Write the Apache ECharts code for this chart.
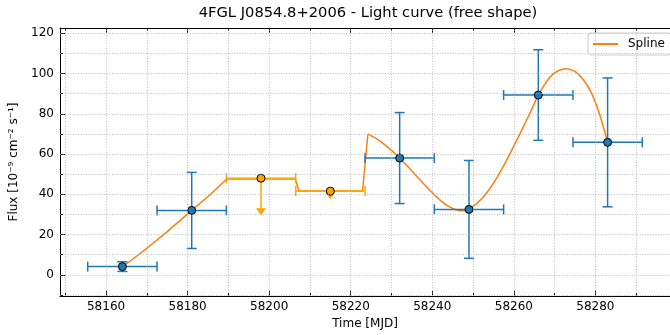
<!DOCTYPE html>
<html>
<head>
<meta charset="utf-8">
<script src="https://cdn.jsdelivr.net/npm/echarts@6/dist/echarts.min.js"></script>
<style>html,body{margin:0;padding:0;background:#fff}#c{width:670px;height:335px}</style>
</head>
<body>
<div id="c"></div>
<script>
// ---- data ----
const titleText = '4FGL J0854.8+2006 - Light curve (free shape)';
const xLabel = 'Time [MJD]';
const yLabel = 'Flux [10\u207B\u2079 cm\u207B\u00B2 s\u207B\u00B9]';

const times = [58164, 58181, 58232, 58249, 58266, 58283];
const flux = [4.1, 32.0, 58.0, 32.5, 89.3, 65.8];
const fluxErr = [2.4, 18.9, 22.6, 24.3, 22.5, 32.0];
const timeErr = [8.5, 8.5, 8.5, 8.5, 8.5, 8.5];

const ulTimes = [58198, 58215];
const ulFlux = [48.0, 41.6];
const ulArrow = [18.4, 4.1];
const ulTimeErr = [8.5, 8.5];

const splineTimeA = [58164, 58166, 58170, 58175, 58181, 58185.5, 58189.6, 58206.4, 58207.3, 58222.9, 58224.2];
const splineFluxA = [4.1, 7.0, 13.2, 21.5, 32.0, 39.8, 47.6, 47.6, 41.6, 41.6, 69.9];
const splineTimeB = [58224.2, 58226, 58228, 58230, 58232, 58234, 58236, 58238, 58240, 58242, 58244, 58246, 58247.5, 58249,
  58252, 58255, 58258, 58261, 58264, 58266, 58269, 58271, 58273, 58275, 58277, 58279, 58281, 58283];
const splineFluxB = [69.9, 68.0, 65.2, 61.8, 58.0, 53.8, 49.4, 45.0, 40.8, 37.0, 34.0, 32.2, 31.8, 32.5,
  37.5, 45.5, 56.0, 68.0, 80.5, 89.3, 98.5, 101.5, 102.3, 101.0, 97.0, 90.5, 80.0, 65.8];

const xTicks = [58160, 58180, 58200, 58220, 58240, 58260, 58280];
const xMinorTicks = [58150, 58170, 58190, 58210, 58230, 58250, 58270, 58290];
const yTicks = [0, 20, 40, 60, 80, 100, 120];
const yMinorTicks = [-10, 10, 30, 50, 70, 90, 110];
const xRange = [58148.7, 58298.3];
const yRange = [-10.5, 122.6];

// ---- chart ----
const FONT = 'DejaVu Sans';
const BLUE = '#1f77b4', ORANGE = '#ff7f0e', UL = '#ffa500';
const chart = echarts.init(document.getElementById('c'), null, {renderer: 'canvas'});

function xAx(pos, ticks, len, line, labels) {
  const a = {
    type: 'value', min: xRange[0], max: xRange[1], position: pos, gridIndex: 0,
    axisLine: {show: line, onZero: false, lineStyle: {color: '#000', width: 1}},
    axisTick: {show: true, inside: true, length: len, customValues: ticks, lineStyle: {color: '#000', width: 1}},
    axisLabel: {show: labels, customValues: ticks, margin: 5, color: '#000', fontSize: 12, fontFamily: FONT,
      formatter: v => String(Math.round(v))},
    splitLine: {show: false}
  };
  if (labels) {
    a.name = xLabel; a.nameLocation = 'middle'; a.nameGap = 22;
    a.nameTextStyle = {color: '#000', fontSize: 12, fontFamily: FONT};
  }
  return a;
}
function yAx(pos, ticks, len, line, labels) {
  const a = {
    type: 'value', min: yRange[0], max: yRange[1], position: pos, gridIndex: 0,
    axisLine: {show: line, onZero: false, lineStyle: {color: '#000', width: 1}},
    axisTick: {show: true, inside: true, length: len, customValues: ticks, lineStyle: {color: '#000', width: 1}},
    axisLabel: {show: labels, customValues: ticks, margin: 6, color: '#000', fontSize: 12, fontFamily: FONT,
      formatter: v => String(Math.round(v))},
    splitLine: {show: false}
  };
  if (labels) {
    a.name = yLabel; a.nameLocation = 'middle'; a.nameGap = 33; a.nameRotate = 90;
    a.nameTextStyle = {color: '#000', fontSize: 12, fontFamily: FONT};
  }
  return a;
}

const gridX = xTicks.concat(xMinorTicks).sort((a, b) => a - b);
const gridY = yTicks.concat(yMinorTicks).sort((a, b) => a - b);

function errRender(params, api) {
  const x = api.value(0), y = api.value(1), ey = api.value(2), ex = api.value(3);
  const c = api.coord([x, y]);
  const l = api.coord([x - ex, y]), r = api.coord([x + ex, y]);
  const t = api.coord([x, y + ey]), b = api.coord([x, y - ey]);
  const st = {stroke: BLUE, lineWidth: 1.5};
  const cap = 5;
  return {type: 'group', children: [
    {type: 'line', shape: {x1: l[0], y1: l[1], x2: r[0], y2: r[1]}, style: st},
    {type: 'line', shape: {x1: l[0], y1: l[1] - cap, x2: l[0], y2: l[1] + cap}, style: st},
    {type: 'line', shape: {x1: r[0], y1: r[1] - cap, x2: r[0], y2: r[1] + cap}, style: st},
    {type: 'line', shape: {x1: t[0], y1: t[1], x2: b[0], y2: b[1]}, style: st},
    {type: 'line', shape: {x1: t[0] - cap, y1: t[1], x2: t[0] + cap, y2: t[1]}, style: st},
    {type: 'line', shape: {x1: b[0] - cap, y1: b[1], x2: b[0] + cap, y2: b[1]}, style: st},
    {type: 'circle', shape: {cx: c[0], cy: c[1], r: 4}, style: {fill: BLUE, stroke: '#000', lineWidth: 1}}
  ]};
}
function ulRender(params, api) {
  const x = api.value(0), y = api.value(1), ay = api.value(2), ex = api.value(3);
  const c = api.coord([x, y]);
  const l = api.coord([x - ex, y]), r = api.coord([x + ex, y]);
  const tip = api.coord([x, y - ay]);
  const st = {stroke: UL, lineWidth: 1.5};
  const cap = 5;
  return {type: 'group', children: [
    {type: 'line', shape: {x1: l[0], y1: l[1], x2: r[0], y2: r[1]}, style: st},
    {type: 'line', shape: {x1: l[0], y1: l[1] - cap, x2: l[0], y2: l[1] + cap}, style: st},
    {type: 'line', shape: {x1: r[0], y1: r[1] - cap, x2: r[0], y2: r[1] + cap}, style: st},
    {type: 'line', shape: {x1: c[0], y1: c[1], x2: tip[0], y2: tip[1] - 6}, style: st},
    {type: 'polygon', shape: {points: [[tip[0], tip[1]], [tip[0] - 5, tip[1] - 7], [tip[0] + 5, tip[1] - 7]]}, style: {fill: UL}},
    {type: 'circle', shape: {cx: c[0], cy: c[1], r: 4}, style: {fill: UL, stroke: '#000', lineWidth: 1}}
  ]};
}

const gridStyle = {color: '#b0b0b0', width: 0.8, type: [1, 1.6]};

const option = {
  animation: false,
  backgroundColor: '#fff',
  title: {
    text: titleText, left: 368, top: 6, textAlign: 'center', padding: 0,
    textStyle: {fontFamily: FONT, fontSize: 14.7, fontWeight: 'normal', color: '#000'}
  },
  legend: {
    data: [{name: 'Spline', icon: 'rect'}],
    left: 588, top: 33, itemWidth: 25, itemHeight: 2,
    padding: [5, 6, 5, 5],
    backgroundColor: 'rgba(255,255,255,0.8)', borderColor: '#cccccc', borderWidth: 1, borderRadius: 3,
    textStyle: {fontFamily: FONT, fontSize: 12, color: '#000', padding: [0, 0, 0, 5]}
  },
  grid: {left: 60, width: 617, top: 28, bottom: 37, containLabel: false},
  xAxis: [
    xAx('bottom', xTicks, 5, true, true),
    xAx('top', xTicks, 5, true, false),
    xAx('bottom', xMinorTicks, 3, false, false),
    xAx('top', xMinorTicks, 3, false, false)
  ],
  yAxis: [
    yAx('left', yTicks, 5, true, true),
    yAx('left', yMinorTicks, 3, false, false)
  ],
  series: [
    {
      name: 'grid', type: 'line', data: [[xRange[0], yRange[0]]], showSymbol: false, z: 0,
      lineStyle: {opacity: 0}, silent: true,
      markLine: {
        silent: true, symbol: ['none', 'none'], label: {show: false}, animation: false,
        lineStyle: gridStyle, emphasis: {disabled: true},
        data: gridX.map(v => ({xAxis: v})).concat(gridY.map(v => ({yAxis: v})))
      }
    },
    {
      name: 'Spline', type: 'line', color: ORANGE, z: 2,
      data: splineTimeA.map((t, i) => [t, splineFluxA[i]]),
      showSymbol: false, symbol: 'none', smooth: false,
      lineStyle: {color: ORANGE, width: 1.5}
    },
    {
      name: 'Spline', type: 'line', color: ORANGE, z: 2,
      data: splineTimeB.map((t, i) => [t, splineFluxB[i]]),
      showSymbol: false, symbol: 'none', smooth: 0.2,
      lineStyle: {color: ORANGE, width: 1.5}
    },
    {
      name: 'points', type: 'custom', z: 3, renderItem: errRender,
      encode: {x: 0, y: 1},
      data: times.map((t, i) => [t, flux[i], fluxErr[i], timeErr[i]])
    },
    {
      name: 'ul', type: 'custom', z: 4, renderItem: ulRender,
      encode: {x: 0, y: 1},
      data: ulTimes.map((t, i) => [t, ulFlux[i], ulArrow[i], ulTimeErr[i]])
    }
  ]
};
chart.setOption(option);
</script>
</body>
</html>
